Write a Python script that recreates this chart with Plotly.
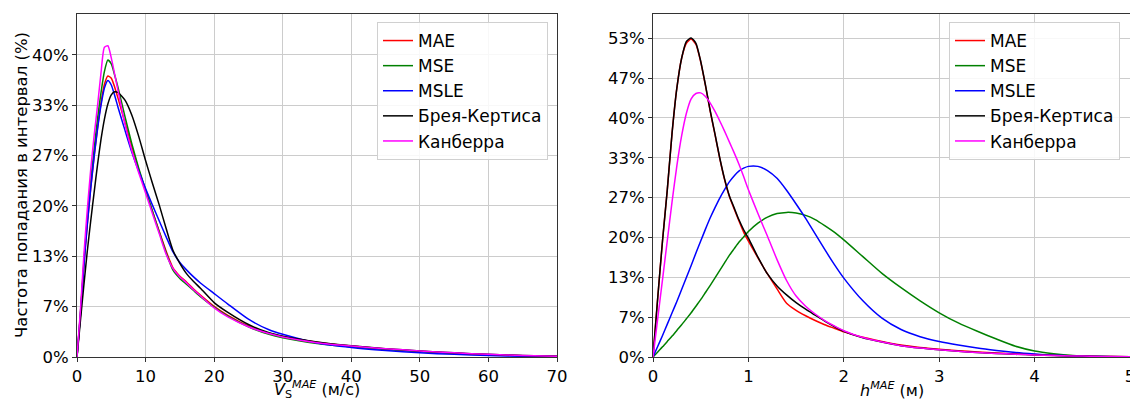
import plotly.graph_objects as go

# ---------------- data ----------------
series_names = ["MAE", "MSE", "MSLE", "Брея-Кертиса", "Канберра"]
series_colors = ["#ff0000", "#008000", "#0000ff", "#000000", "#ff00ff"]

# Left panel: V_S^MAE (m/s), frequency in %
vs_x = [0, 0.5, 1, 1.5, 2, 2.5, 3, 3.5, 4, 4.5, 5, 5.5, 6, 7, 8, 9, 10, 11, 12, 13,
        14, 15, 16, 17, 18, 20, 22, 25, 28, 30, 35, 40, 45, 50, 55, 60, 65, 70]
vs_mae = [0, 5.6, 12.2, 17.6, 22.3, 26.6, 30.4, 33.6, 36.1, 37.2, 36.9, 35.7, 34.2, 31.0, 27.8, 24.8, 22.0, 19.3, 16.6, 14.0,
          11.8, 10.7, 9.9, 9.0, 8.2, 6.7, 5.5, 4.1, 3.15, 2.7, 1.95, 1.45, 1.05, 0.75, 0.5, 0.3, 0.17, 0.1]
vs_mse = [0, 5.8, 12.6, 18.2, 23.2, 27.6, 31.6, 35.0, 37.8, 39.3, 38.8, 37.3, 35.6, 31.8, 28.2, 25.0, 22.1, 19.3, 16.5, 13.8,
          11.5, 10.4, 9.6, 8.8, 8.0, 6.6, 5.4, 4.0, 3.0, 2.55, 1.8, 1.35, 1.0, 0.72, 0.5, 0.3, 0.16, 0.08]
vs_msle = [0, 5.5, 12.0, 17.5, 22.3, 26.5, 30.2, 33.3, 35.6, 36.6, 36.0, 34.6, 33.0, 30.0, 27.1, 24.6, 22.3, 20.1, 18.0, 15.9,
           13.9, 12.5, 11.5, 10.6, 9.8, 8.4, 7.0, 5.0, 3.6, 3.0, 1.85, 1.25, 0.85, 0.55, 0.35, 0.2, 0.1, 0.05]
vs_bc = [0, 4.8, 9.5, 14.0, 18.0, 21.8, 25.5, 28.8, 31.5, 33.5, 34.7, 35.1, 35.0, 34.0, 32.0, 29.2, 26.0, 23.0, 20.1, 17.0,
         14.1, 12.4, 11.0, 10.0, 9.1, 7.2, 5.9, 4.3, 3.2, 2.75, 2.0, 1.5, 1.1, 0.8, 0.55, 0.35, 0.2, 0.1]
vs_can = [0, 6.2, 13.5, 19.5, 24.8, 29.3, 33.3, 37.6, 41.0, 41.2, 39.6, 37.4, 35.2, 30.8, 27.3, 24.4, 21.7, 19.0, 16.3, 13.6,
          11.7, 10.6, 9.8, 8.9, 8.1, 6.5, 5.3, 4.0, 3.1, 2.65, 1.9, 1.45, 1.1, 0.8, 0.55, 0.35, 0.2, 0.1]

# Right panel: h^MAE (m), frequency in %
h_x = [0, 0.05, 0.1, 0.15, 0.2, 0.25, 0.3, 0.35, 0.4, 0.45, 0.5, 0.55, 0.6, 0.65, 0.7, 0.75, 0.8, 0.85, 0.9, 0.95,
       1.0, 1.1, 1.2, 1.3, 1.4, 1.5, 1.6, 1.7, 1.8, 1.9, 2.0, 2.2, 2.4, 2.6, 2.8, 3.0, 3.2, 3.4, 3.6, 3.8,
       4.0, 4.2, 4.4, 4.6, 4.8, 5.0]
h_mae = [0, 10, 19.5, 28, 37.5, 45, 50, 52.5, 53.2, 52.3, 49.4, 45.4, 41.1, 37.2, 33.2, 29.7, 26.9, 24.8, 22.8, 20.9,
         19.4, 16.6, 13.9, 11.4, 9.0, 7.8, 6.9, 6.1, 5.4, 4.8, 4.2, 3.3, 2.6, 2.0, 1.6, 1.3, 1.05, 0.85, 0.65, 0.5,
         0.4, 0.3, 0.2, 0.13, 0.08, 0.04]
h_mse = [0, 0.85, 1.7, 2.6, 3.5, 4.45, 5.4, 6.4, 7.4, 8.5, 9.6, 10.8, 12.0, 13.25, 14.5, 15.75, 17.0, 18.1, 19.2, 20.1,
         21.0, 22.4, 23.4, 24.0, 24.2, 24.1, 23.7, 23.0, 22.0, 20.9, 19.6, 16.8, 14.0, 11.6, 9.4, 7.4, 5.7, 4.3, 3.0, 1.8,
         1.0, 0.55, 0.25, 0.1, 0.04, 0.01]
h_msle = [0, 1.8, 3.6, 5.5, 7.4, 9.3, 11.3, 13.3, 15.3, 17.4, 19.4, 21.4, 23.3, 25.0, 26.6, 28.0, 29.3, 30.3, 31.1, 31.6,
          31.9, 31.9, 31.2, 29.9, 27.9, 25.6, 23.2, 20.6, 18.0, 15.5, 13.2, 9.4, 6.5, 4.6, 3.4, 2.6, 2.0, 1.5, 1.1, 0.75,
          0.5, 0.3, 0.18, 0.1, 0.05, 0.02]
h_bc = [0, 10, 19.5, 28, 37.5, 45, 50, 52.8, 53.4, 52.5, 49.5, 45.5, 41.2, 37.3, 33.3, 29.8, 27.0, 25.0, 23.0, 21.3,
        19.9, 16.7, 13.9, 11.9, 10.4, 9.1, 8.0, 7.0, 6.0, 5.1, 4.3, 3.2, 2.5, 1.9, 1.5, 1.2, 0.95, 0.75, 0.6, 0.45,
        0.35, 0.25, 0.18, 0.12, 0.07, 0.04]
h_can = [0, 6.5, 13, 19.5, 26, 32, 37, 40.8, 43.2, 44.1, 44.2, 43.6, 42.5, 41.1, 39.5, 37.8, 36.0, 34.2, 32.3, 30.2,
         28.0, 24.0, 20.2, 16.3, 12.8, 10.2, 8.5, 7.2, 6.1, 5.2, 4.4, 3.25, 2.5, 1.9, 1.5, 1.2, 0.95, 0.75, 0.6, 0.45,
         0.35, 0.25, 0.18, 0.12, 0.07, 0.04]

y_tick_labels_left = ["0%", "7%", "13%", "20%", "27%", "33%", "40%"]
y_tick_labels_right = ["0%", "7%", "13%", "20%", "27%", "33%", "40%", "47%", "53%"]
x_ticks_left = [0, 10, 20, 30, 40, 50, 60, 70]
x_ticks_right = [0, 1, 2, 3, 4, 5]

y_title = "Частота попадания в интервал (%)"
x_title_left = "<i>V</i><sub>S</sub><sup><i>MAE</i></sup> (м/с)"
x_title_right = "<i>h</i><sup><i>MAE</i></sup> (м)"

# ---------------- figure ----------------
FONT = "DejaVu Sans"
TICK_SIZE = 16.5
TITLE_SIZE = 16
fig = go.Figure()

left_series = [vs_mae, vs_mse, vs_msle, vs_bc, vs_can]
right_series = [h_mae, h_mse, h_msle, h_bc, h_can]

for i, (name, color, ys) in enumerate(zip(series_names, series_colors, left_series)):
    fig.add_trace(go.Scatter(x=vs_x, y=ys, mode="lines", name=name,
                             line=dict(color=color, width=1.5, shape="spline", smoothing=0.6),
                             xaxis="x", yaxis="y", legend="legend", legendgroup="L%d" % i))
for i, (name, color, ys) in enumerate(zip(series_names, series_colors, right_series)):
    fig.add_trace(go.Scatter(x=h_x, y=ys, mode="lines", name=name,
                             line=dict(color=color, width=1.5, shape="spline", smoothing=0.6),
                             xaxis="x2", yaxis="y2", legend="legend2", legendgroup="R%d" % i))

# the page body adds an 8px offset, so the figure is laid out 8px up/left
W, H = 1130, 393
ML, MR, MT, MB = 69, 8, 6, 44
pw = W - ML - MR
ph = H - MT - MB

step = 20 / 3
axis_common = dict(showline=True, mirror=True, linecolor="#333333", linewidth=1,
                   showgrid=True, gridcolor="#cccccc", gridwidth=1, zeroline=False,
                   ticks="outside", ticklen=4, tickcolor="#333333", automargin=False,
                   tickfont=dict(family=FONT, size=TICK_SIZE, color="#000000"))

left_dom = [0, 480 / pw]
right_dom = [576 / pw, 1]
legend_top = (ph - 8) / ph

fig.update_layout(
    width=W, height=H,
    margin=dict(l=ML, r=MR, t=MT, b=MB),
    plot_bgcolor="white", paper_bgcolor="white",
    font=dict(family=FONT, size=16, color="#000000"),
    xaxis=dict(domain=left_dom, range=[0, 70], tickvals=x_ticks_left,
               anchor="y", **axis_common),
    yaxis=dict(domain=[0, 1], range=[0, 45.4],
               tickvals=[k * step for k in range(len(y_tick_labels_left))],
               ticktext=y_tick_labels_left, anchor="x", **axis_common),
    xaxis2=dict(domain=right_dom, range=[0, 5], tickvals=x_ticks_right,
                anchor="y2", **axis_common),
    yaxis2=dict(domain=[0, 1], range=[0, 57.4],
                tickvals=[k * step for k in range(len(y_tick_labels_right))],
                ticktext=y_tick_labels_right, anchor="x2", **axis_common),
    legend=dict(x=(540 - ML) / pw, y=legend_top, xanchor="right", yanchor="top",
                bgcolor="rgba(255,255,255,0.85)", bordercolor="#d0d0d0", borderwidth=1,
                font=dict(family=FONT, size=17), tracegroupgap=0),
    legend2=dict(x=(1112 - ML) / pw, y=legend_top, xanchor="right", yanchor="top",
                 bgcolor="rgba(255,255,255,0.85)", bordercolor="#d0d0d0", borderwidth=1,
                 font=dict(family=FONT, size=17), tracegroupgap=0),
    annotations=[
        dict(text=x_title_left, xref="paper", yref="paper",
             x=(left_dom[0] + left_dom[1]) / 2, y=-33 / ph,
             xanchor="center", yanchor="middle", showarrow=False,
             font=dict(family=FONT, size=TITLE_SIZE)),
        dict(text=x_title_right, xref="paper", yref="paper",
             x=(right_dom[0] + right_dom[1]) / 2, y=-33 / ph,
             xanchor="center", yanchor="middle", showarrow=False,
             font=dict(family=FONT, size=TITLE_SIZE)),
        dict(text=y_title, xref="paper", yref="paper",
             x=-(ML - 2) / pw, y=0.5, textangle=-90,
             xanchor="left", yanchor="middle", showarrow=False,
             font=dict(family=FONT, size=TICK_SIZE)),
    ],
)

fig.write_html("out.html")
